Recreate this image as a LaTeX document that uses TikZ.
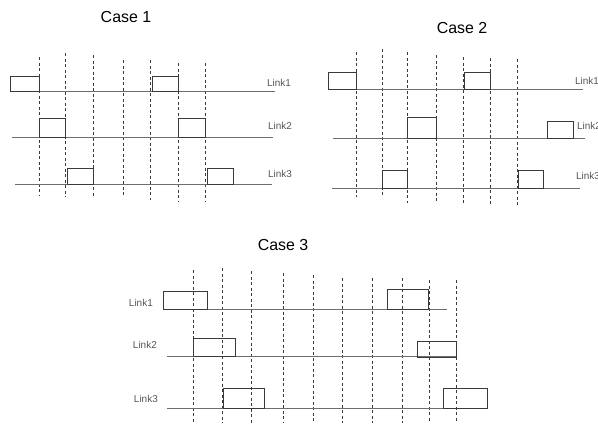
\documentclass[tikz,border=0pt]{standalone}
\usepackage{fontspec}
\setmainfont{Liberation Sans}
\usepackage{xcolor}
\usetikzlibrary{positioning}
\definecolor{linegray}{HTML}{6E6E6E}
\definecolor{boxgray}{HTML}{3A3A3A}
\definecolor{txtgray}{HTML}{555555}
\tikzset{
  link/.style={linegray,line width=0.9pt},
  slot/.style={draw=boxgray,line width=0.8pt},
  tick/.style={boxgray,line width=0.7pt,dash pattern=on 3bp off 2.5bp},
  lbl/.style={font=\fontsize{10}{12}\selectfont,text=txtgray,inner sep=0pt},
  ttl/.style={font=\fontsize{16}{18}\selectfont,inner sep=0pt}
}

\begin{document}
\begin{tikzpicture}[x=1bp,y=-1bp]
\useasboundingbox (0,0) rectangle (598,423);
% case 1
\node[ttl] (ttlA) at (126,17) {Case 1};
\foreach \x/\a/\b in {39/57/195,65/53/197,93/55/197,123/60/197,150/60/200,178/63/202,205/63/202}
  \draw[tick] (\x,\a) -- (\x,\b);
\draw[link] (10,91) -- (275,91);
\draw[link] (12,137) -- (273,137);
\draw[link] (15,184) -- (272,184);
\draw[slot] (10,76) rectangle (39,91);
\draw[slot] (152,76) rectangle (178,91);
\draw[slot] (39,118) rectangle (65,137);
\draw[slot] (178,118) rectangle (205,137);
\draw[slot] (67,168) rectangle (93,184);
\draw[slot] (207,168) rectangle (233,184);
\node[lbl,anchor=west] (aLink1) at (267,83) {Link1};
\node[lbl,anchor=west] (aLink2) at (268,126) {Link2};
\node[lbl,anchor=west] (aLink3) at (268,174) {Link3};
% case 2
\node[ttl] (ttlB) at (462,28) {Case 2};
\foreach \x/\a/\b in {356/52/197,382/49/197,407/52/203,436/55/201,463/57/203,490/58/205,517/59/205}
  \draw[tick] (\x,\a) -- (\x,\b);
\draw[link] (328,89) -- (583,89);
\draw[link] (333,138) -- (585,138);
\draw[link] (332,188) -- (580,188);
\draw[slot] (328,72) rectangle (356,89);
\draw[slot] (464,72) rectangle (490,89);
\draw[slot] (407,117) rectangle (436,138);
\draw[slot] (547,121) rectangle (573,138);
\draw[slot] (382,170) rectangle (407,188);
\draw[slot] (518,170) rectangle (543,188);
\node[lbl,anchor=west] (bLink1) at (575,81) {Link1};
\node[lbl,anchor=west] (bLink2) at (577,126) {Link2};
\node[lbl,anchor=west] (bLink3) at (576,176) {Link3};
% case 3
\node[ttl] (ttlC) at (283,245) {Case 3};
\foreach \x/\a in {193/270,222/268,251/271,283/273,313/275,342/278,372/278,402/278,429/280,456/280}
  \draw[tick] (\x,\a) -- (\x,423);
\draw[link] (163,309) -- (447,309);
\draw[link] (167,356) -- (456,356);
\draw[link] (167,408) -- (443,408);
\draw[slot] (163,291) rectangle (207,309);
\draw[slot] (387,289) rectangle (428,309);
\draw[slot] (193,338) rectangle (235,356);
\draw[slot] (417,341) rectangle (456,357);
\draw[slot] (223,388) rectangle (264,408);
\draw[slot] (443,388) rectangle (487,408);
\node[lbl,anchor=east] (cLink1) at (153,303) {Link1};
\node[lbl,anchor=east] (cLink2) at (157,345) {Link2};
\node[lbl,anchor=east] (cLink3) at (158,399) {Link3};
\end{tikzpicture}
\end{document}
